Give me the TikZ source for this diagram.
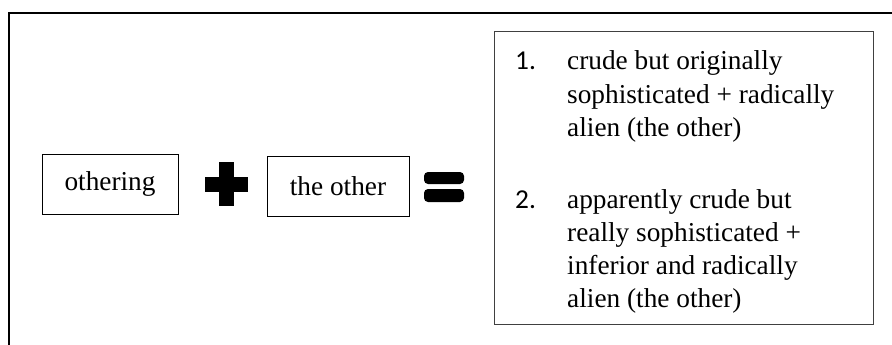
\documentclass[tikz,border=0pt]{standalone}
\usepackage{fontspec}
\setmainfont{Liberation Serif}
\newfontfamily\numfont{Carlito}
\begin{document}
\begin{tikzpicture}[x=1pt,y=-1pt,
  txt/.style={font=\fontsize{27.3}{33}\selectfont, inner sep=0pt, anchor=base west},
  num/.style={font=\numfont\fontsize{27.3}{33}\selectfont, inner sep=0pt, anchor=base west},
  termbox/.style={draw=black, line width=1pt, minimum width=136pt, minimum height=60pt, inner sep=0pt, font=\fontsize{27.3}{33}\selectfont},
  sym/.style={fill=black, draw=none}]
\useasboundingbox (0,0) rectangle (892,345);
% outer frame (only top and left edges visible)
\draw[line width=2.2pt] (9,345) -- (9,13) -- (892,13);
% left boxes
\node[termbox] (othering) at (110,184) {othering};
\node[termbox, minimum width=142pt] (theother) at (338,186) {the other};
% plus
\fill[sym] (219,162) rectangle (234,206);
\fill[sym] (205,177) rectangle (248,192);
% equals
\fill[sym, rounded corners=4pt] (424,172) rectangle (464,184);
\fill[sym, rounded corners=4pt] (424,189) rectangle (464,202);
% result box
\node[draw=black!75, line width=1pt, minimum width=379pt, minimum height=292pt, inner sep=0pt] (result) at (683.5,178) {};
% item 1
\node[num] (n1) at (515,70) {1.};
\node[txt] (a1) at (567,70) {crude but originally};
\node[txt] (a2) at (567,103) {sophisticated + radically};
\node[txt] (a3) at (567,136) {alien (the other)};
% item 2
\node[num] (n2) at (515,208) {2.};
\node[txt] (b1) at (567,208) {apparently crude but};
\node[txt] (b2) at (567,241) {really sophisticated +};
\node[txt] (b3) at (567,274) {inferior and radically};
\node[txt] (b4) at (567,307) {alien (the other)};
\end{tikzpicture}
\end{document}
